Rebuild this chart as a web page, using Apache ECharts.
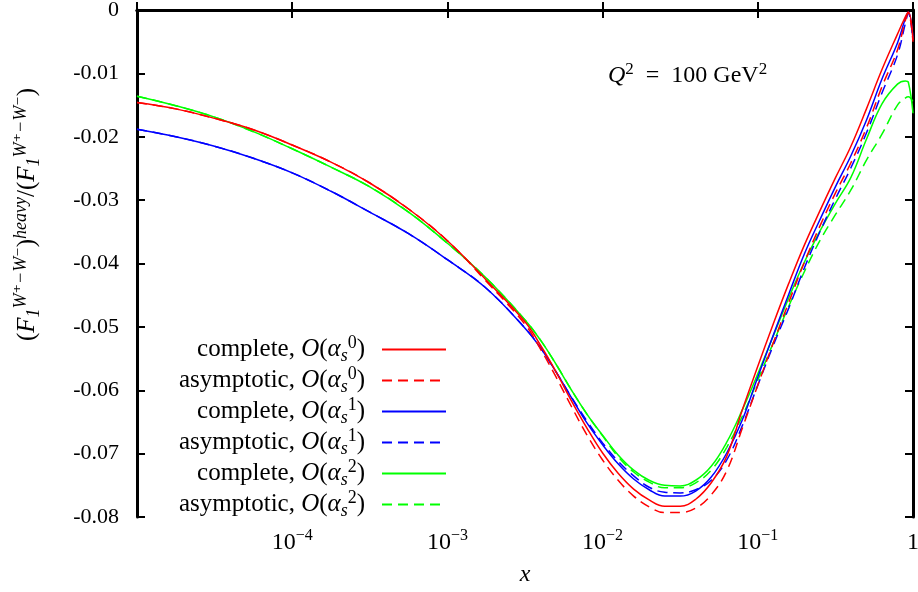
<!DOCTYPE html>
<html>
<head>
<meta charset="utf-8">
<script src="https://cdn.jsdelivr.net/npm/echarts@6/dist/echarts.min.js"></script>
<style>
  html, body { margin: 0; padding: 0; background: #fff; }
  #chart { width: 918px; height: 592px; }
</style>
</head>
<body>
<div id="chart"></div>
<script>
// x positions (read at fixed spots along the log axis)
const xs = [1e-5, 1.778e-5, 3.162e-5, 5.623e-5, 1e-4, 1.778e-4, 3.162e-4, 5.623e-4, 1e-3, 1.778e-3,
  3.162e-3, 3.981e-3, 5.012e-3, 6.310e-3, 7.943e-3, 1e-2, 1.259e-2, 1.585e-2, 1.995e-2, 2.512e-2,
  3.162e-2, 3.981e-2, 5.012e-2, 6.310e-2, 7.943e-2, 0.1, 0.1259, 0.1585, 0.1995, 0.2512,
  0.3162, 0.3981, 0.5012, 0.6310, 0.7943, 0.8913, 0.9333, 1];

const completeA0 = [-0.0146, -0.0156, -0.0171, -0.0189, -0.0213, -0.0240, -0.0273, -0.0314, -0.0364, -0.0426,
  -0.0492, -0.0529, -0.0571, -0.0617, -0.0660, -0.0699, -0.0731, -0.0756, -0.0773, -0.0783,
  -0.0783, -0.0772, -0.0746, -0.0704, -0.0631, -0.0562, -0.0495, -0.0431, -0.0371, -0.0317,
  -0.0265, -0.0215, -0.0156, -0.0094, -0.0038, -0.0011, -0.0003, -0.0047];
const asymptoticA0 = [-0.0146, -0.0156, -0.0171, -0.0189, -0.0213, -0.0240, -0.0273, -0.0314, -0.0364, -0.0428,
  -0.0496, -0.0535, -0.0579, -0.0626, -0.0671, -0.0710, -0.0742, -0.0767, -0.0784, -0.0793,
  -0.0793, -0.0786, -0.0765, -0.0727, -0.0660, -0.0592, -0.0525, -0.0461, -0.0398, -0.0341,
  -0.0289, -0.0241, -0.0186, -0.0121, -0.0063, -0.0017, -0.0005, -0.0050];
const completeA1 = [-0.0188, -0.0200, -0.0215, -0.0234, -0.0257, -0.0286, -0.0319, -0.0353, -0.0394, -0.0439,
  -0.0502, -0.0533, -0.0571, -0.0612, -0.0652, -0.0686, -0.0716, -0.0740, -0.0757, -0.0767,
  -0.0767, -0.0759, -0.0737, -0.0699, -0.0647, -0.0579, -0.0513, -0.0448, -0.0385, -0.0331,
  -0.0279, -0.0230, -0.0174, -0.0109, -0.0052, -0.0014, -0.0003, -0.0044];
const asymptoticA1 = [-0.0188, -0.0200, -0.0215, -0.0234, -0.0257, -0.0286, -0.0319, -0.0353, -0.0394, -0.0439,
  -0.0502, -0.0533, -0.0571, -0.0611, -0.0649, -0.0683, -0.0712, -0.0735, -0.0753, -0.0761,
  -0.0762, -0.0757, -0.0742, -0.0710, -0.0656, -0.0592, -0.0529, -0.0470, -0.0407, -0.0350,
  -0.0298, -0.0249, -0.0194, -0.0131, -0.0071, -0.0022, -0.0005, -0.0047];
const completeA2 = [-0.0136, -0.0151, -0.0169, -0.0192, -0.0219, -0.0248, -0.0279, -0.0319, -0.0368, -0.0423,
  -0.0489, -0.0521, -0.0559, -0.0600, -0.0638, -0.0671, -0.0702, -0.0726, -0.0742, -0.0750,
  -0.0751, -0.0742, -0.0720, -0.0682, -0.0631, -0.0574, -0.0514, -0.0454, -0.0398, -0.0349,
  -0.0305, -0.0264, -0.0204, -0.0148, -0.0117, -0.0112, -0.0114, -0.0163];
const asymptoticA2 = [-0.0136, -0.0151, -0.0169, -0.0192, -0.0219, -0.0248, -0.0279, -0.0319, -0.0368, -0.0423,
  -0.0489, -0.0521, -0.0559, -0.0600, -0.0638, -0.0672, -0.0705, -0.0729, -0.0745, -0.0754,
  -0.0754, -0.0746, -0.0726, -0.0690, -0.0641, -0.0584, -0.0525, -0.0467, -0.0413, -0.0364,
  -0.0323, -0.0284, -0.0237, -0.0196, -0.0150, -0.0139, -0.0137, -0.0145];

const seriesNames = ['complete, a0', 'asymptotic, a0', 'complete, a1', 'asymptotic, a1', 'complete, a2', 'asymptotic, a2'];
const seriesValues = [completeA0, asymptoticA0, completeA1, asymptoticA1, completeA2, asymptoticA2];
const seriesColors = ['#ff0000', '#ff0000', '#0000ff', '#0000ff', '#00ff00', '#00ff00'];

const yTickMin = -0.08;
const yTickMax = 0;
const yTickStep = 0.01;

const serif = "'Liberation Serif', 'DejaVu Serif', serif";
const fs = 22;

const mathStyle = (size, lh, extra) => Object.assign({
  fontFamily: serif, fontSize: size, lineHeight: lh, fontWeight: 'normal', color: '#000'
}, extra || {});

const richMath = size => ({
  t: mathStyle(size, size + 6),
  i: mathStyle(size, size + 6, { fontStyle: 'italic' }),
  sub: mathStyle(Math.round(size * 0.7), Math.round(size * 0.7), { fontStyle: 'italic', verticalAlign: 'bottom' }),
  sup: mathStyle(Math.round(size * 0.7), Math.round(size * 0.7), { verticalAlign: 'top' }),
  supi: mathStyle(Math.round(size * 0.7), Math.round(size * 0.7), { fontStyle: 'italic', verticalAlign: 'top' })
});

const legendText = name => {
  const parts = name.split(', a');
  return `{t|${parts[0]}, }{i|O}{t|(}{i|α}{sub|s}{sup|${parts[1]}}{t|)}`;
};

const chart = echarts.init(document.getElementById('chart'));

const option = {
  animation: false,
  backgroundColor: '#fff',
  title: {
    text: '{i|Q}{sup|2}{t|  =  100 GeV}{sup|2}',
    left: 603,
    top: 56,
    textStyle: { fontWeight: 'normal', rich: richMath(24) }
  },
  legend: {
    orient: 'vertical',
    align: 'right',
    right: 471,
    top: 334,
    padding: 0,
    itemWidth: 64,
    itemHeight: 14,
    itemGap: 0,
    data: seriesNames,
    formatter: legendText,
    itemStyle: { opacity: 0, borderWidth: 0 },
    textStyle: { rich: richMath(25), padding: [0, 12, 0, 0] },
    selectedMode: false
  },
  grid: { left: 137, right: 5, top: 10, bottom: 75, outerBoundsMode: 'none' },
  xAxis: [
    {
      type: 'log',
      logBase: 10,
      min: 1e-5,
      max: 1,
      name: 'x',
      nameLocation: 'middle',
      nameGap: 46,
      nameTextStyle: { fontFamily: serif, fontSize: 24, fontStyle: 'italic', color: '#000' },
      axisLine: { show: true, lineStyle: { color: '#000', width: 3 } },
      axisTick: { show: true, inside: true, length: 8, lineStyle: { color: '#000', width: 2 } },
      minorTick: { show: false },
      splitLine: { show: false },
      axisLabel: {
        margin: 11,
        formatter: v => {
          const e = Math.round(Math.log10(v));
          if (e === -5) return '';
          if (e === 0) return '{b|1}';
          return '{b|10}{e|−' + (-e) + '}';
        },
        rich: {
          b: mathStyle(24, 30),
          e: mathStyle(16, 16, { verticalAlign: 'top' })
        }
      }
    },
    {
      type: 'log',
      logBase: 10,
      min: 1e-5,
      max: 1,
      position: 'top',
      axisLine: { show: true, lineStyle: { color: '#000', width: 3 } },
      axisTick: { show: true, inside: true, length: 8, lineStyle: { color: '#000', width: 2 } },
      axisLabel: { show: false },
      splitLine: { show: false }
    }
  ],
  yAxis: [
    {
      type: 'value',
      min: yTickMin,
      max: yTickMax,
      interval: yTickStep,
      name: '{t|(}{i|F}{sub|1}{supi|W⁺−W⁻}{t|)}{supi|heavy}{t|/(}{i|F}{sub|1}{supi|W⁺−W⁻}{t|)}',
      nameLocation: 'middle',
      nameGap: 94,
      nameRotate: 90,
      nameTextStyle: { rich: richMath(25), padding: [0, 0, 0, 98] },
      axisLine: { show: true, lineStyle: { color: '#000', width: 3 } },
      axisTick: { show: true, inside: true, length: 8, lineStyle: { color: '#000', width: 2 } },
      splitLine: { show: false },
      axisLabel: {
        margin: 18,
        fontFamily: serif,
        fontSize: fs,
        color: '#000',
        formatter: v => (Math.abs(v) < 1e-9 ? '0' : v.toFixed(2))
      }
    },
    {
      type: 'value',
      min: yTickMin,
      max: yTickMax,
      interval: yTickStep,
      position: 'right',
      axisLine: { show: true, lineStyle: { color: '#000', width: 3 } },
      axisTick: { show: true, inside: true, length: 8, lineStyle: { color: '#000', width: 2 } },
      axisLabel: { show: false },
      splitLine: { show: false }
    }
  ],
  series: seriesNames.map((name, k) => ({
    name,
    type: 'line',
    xAxisIndex: 0,
    yAxisIndex: 0,
    data: xs.map((x, i) => [x, seriesValues[k][i]]),
    smooth: 0.4,
    symbol: 'none',
    color: seriesColors[k],
    lineStyle: {
      color: seriesColors[k],
      width: 1.5,
      type: k % 2 === 1 ? [10, 6] : 'solid'
    },
    z: 10 - k
  }))
};

chart.setOption(option);
</script>
</body>
</html>
